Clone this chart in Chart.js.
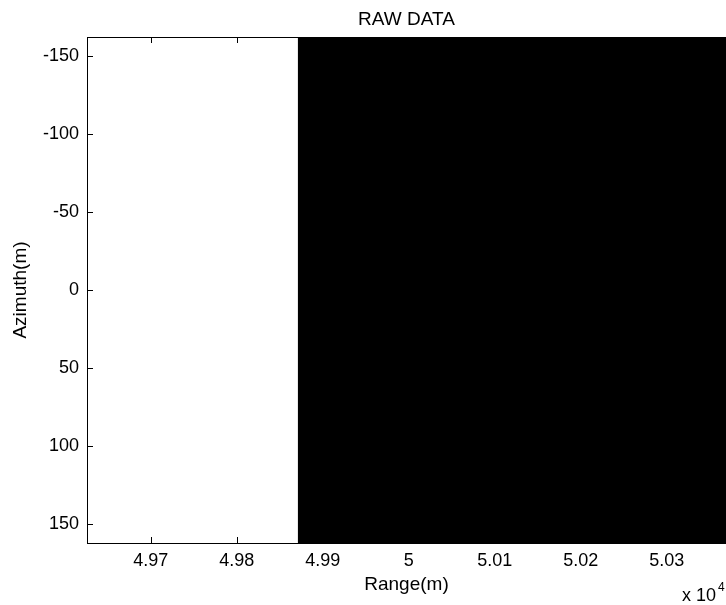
<!DOCTYPE html>
<html>
<head>
<meta charset="utf-8">
<script src="https://cdn.jsdelivr.net/npm/chart.js@4"></script>
<style>
  html, body { margin: 0; padding: 0; background: #fff; overflow: hidden; }
</style>
</head>
<body>
<canvas id="chart" width="726" height="605"></canvas>
<script>
// range axis limits (m) and where the black raw block begins
let rangeLimits = [49626, 50369];
let blackRange = [49871, 50369];
// azimuth limits (m), top of image is the smallest value
let azimuthLimits = [-162, 162];
let xTicks = [49700, 49800, 49900, 50000, 50100, 50200, 50300];
let yTicks = [-150, -100, -50, 0, 50, 100, 150];

let fontFamily = "'Liberation Sans', Arial, Helvetica, sans-serif";

// MATLAB style frame: top line, inward ticks, exponent label
let matlabFrame = {
  id: "matlabFrame",
  afterDatasetsDraw(chart) {
    let ctx = chart.ctx;
    let area = chart.chartArea;
    let xs = chart.scales.x;
    let ys = chart.scales.y;
    ctx.save();
    ctx.strokeStyle = "#000";
    ctx.lineWidth = 1;
    ctx.beginPath();
    ctx.moveTo(area.left, area.top + 0.5);
    ctx.lineTo(area.right, area.top + 0.5);
    xTicks.forEach((v) => {
      let px = Math.round(xs.getPixelForValue(v)) + 0.5;
      ctx.moveTo(px, area.top);
      ctx.lineTo(px, area.top + 6);
      ctx.moveTo(px, area.bottom);
      ctx.lineTo(px, area.bottom - 6);
    });
    yTicks.forEach((v) => {
      let py = Math.round(ys.getPixelForValue(v)) + 0.5;
      ctx.moveTo(area.left, py);
      ctx.lineTo(area.left + 6, py);
    });
    ctx.stroke();
    ctx.restore();
  },
  afterDraw(chart) {
    let ctx = chart.ctx;
    ctx.save();
    ctx.fillStyle = "#000";
    ctx.textBaseline = "alphabetic";
    ctx.font = "18px " + fontFamily;
    ctx.fillText("x 10", 682, 601);
    ctx.font = "12px " + fontFamily;
    ctx.fillText("4", 718, 591);
    ctx.restore();
  },
};

let barChart = new Chart(document.getElementById("chart").getContext("2d"), {
  type: "line",
  data: {
    datasets: [
      {
        label: "raw",
        data: [
          { x: blackRange[0], y: azimuthLimits[0] },
          { x: blackRange[1], y: azimuthLimits[0] },
        ],
        fill: { value: azimuthLimits[1] },
        backgroundColor: "#000",
        borderColor: "#000",
        borderWidth: 0,
        pointRadius: 0,
      },
    ],
  },
  options: {
    responsive: false,
    animation: false,
    layout: { padding: 0 },
    scales: {
      x: {
        type: "linear",
        min: rangeLimits[0],
        max: rangeLimits[1],
        afterBuildTicks: (scale) => {
          scale.ticks = xTicks.map((v) => ({ value: v }));
        },
        afterFit: (scale) => {
          scale.height = 62;
        },
        grid: { drawOnChartArea: false, drawTicks: false },
        border: { color: "#000", width: 1 },
        ticks: {
          color: "#000",
          padding: 7,
          maxRotation: 0,
          font: { family: fontFamily, size: 18 },
          callback: (v) => parseFloat((v / 1e4).toFixed(2)).toString(),
        },
        title: {
          display: true,
          text: "Range(m)",
          color: "#000",
          font: { family: fontFamily, size: 19 },
          padding: { top: 0, bottom: 9 },
        },
      },
      y: {
        type: "linear",
        reverse: true,
        min: azimuthLimits[0],
        max: azimuthLimits[1],
        afterBuildTicks: (scale) => {
          scale.ticks = yTicks.map((v) => ({ value: v }));
        },
        afterFit: (scale) => {
          scale.width = 87;
        },
        grid: { drawOnChartArea: false, drawTicks: false },
        border: { color: "#000", width: 1 },
        ticks: {
          color: "#000",
          padding: 8,
          font: { family: fontFamily, size: 18 },
        },
        title: {
          display: true,
          text: "Azimuth(m)",
          color: "#000",
          font: { family: fontFamily, size: 19 },
          padding: { top: 9, bottom: 0 },
        },
      },
    },
    plugins: {
      legend: { display: false },
      tooltip: { enabled: false },
      title: {
        display: true,
        text: "RAW DATA",
        fullSize: false,
        color: "#000",
        font: { family: fontFamily, size: 19, weight: "normal" },
        padding: { top: 8, bottom: 6.2 },
      },
    },
  },
  plugins: [matlabFrame],
});
</script>
</body>
</html>
